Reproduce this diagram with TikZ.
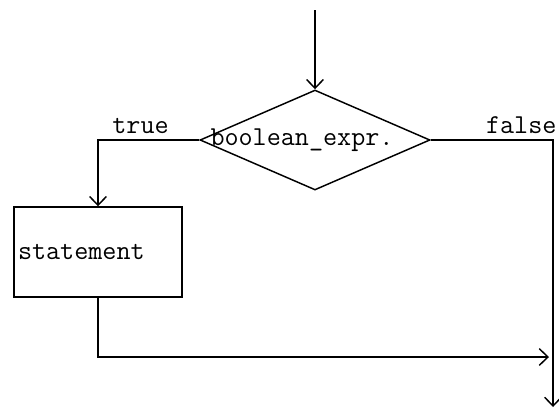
\documentclass[tikz,border=0pt]{standalone}
\usetikzlibrary{arrows.meta, positioning, shapes.geometric}
\tikzset{
  flow/.style={line width=1.1pt, -{Straight Barb[length=6.5pt,width=12.5pt]}},
  code/.style={font=\ttfamily\fontsize{20.5}{22}\selectfont},
  branch/.style={code, above=4pt, inner sep=0pt},
}

\begin{document}
\begin{tikzpicture}[x=0.75pt, y=-0.75pt]
  \useasboundingbox (0,0) rectangle (559,408);

  % decision and statement blocks
  \node[draw, diamond, line width=1.1pt, minimum width=172.5pt, minimum height=75pt, inner sep=0pt] (cond) at (315,140) {};
  \node[code] (condtext) at (302,140) {boolean\_expr.};
  \node[draw, code, line width=1.1pt, minimum height=67.5pt, text width=120pt, inner xsep=3pt, align=left] (stmt) at (98,252) {statement};

  \coordinate (entry) at (315,10);
  \coordinate (join) at (553,357);
  \coordinate (exit) at (553,407);

  % connectors
  \draw[flow] (entry) -- (cond.north);
  \draw[flow] (cond.west) -| node[branch, pos=0.29] (truelbl) {true} (stmt.north);
  \draw[flow] (cond.east) -| node[branch, pos=0.37] (falselbl) {false} (exit);
  \draw[flow, shorten >=3pt] (stmt.south) |- (join);
\end{tikzpicture}
\end{document}
